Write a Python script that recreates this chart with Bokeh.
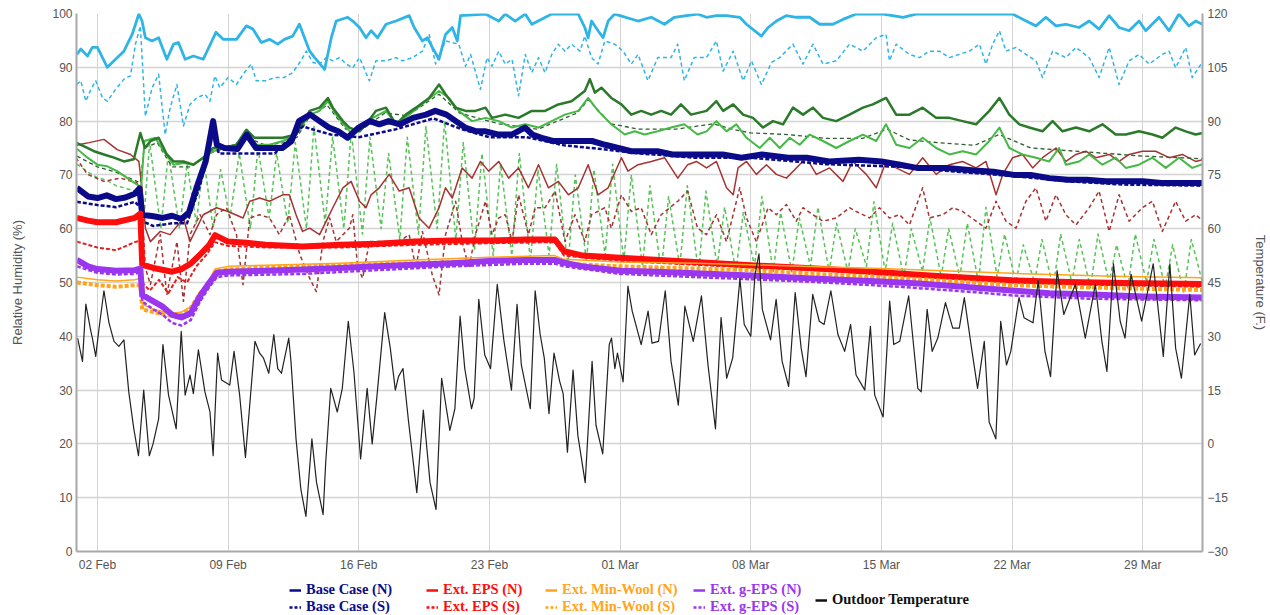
import pandas as pd
from bokeh.plotting import figure
from bokeh.layouts import column
from bokeh.models import (Range1d, LinearAxis, FixedTicker, DatetimeTickFormatter,
                          Legend, LegendItem)
from bokeh.embed import file_html
from bokeh.resources import INLINE

START = "2016-02-01"
TICK_DATES = ["2016-02-02", "2016-02-09", "2016-02-16", "2016-02-23", "2016-03-01",
              "2016-03-08", "2016-03-15", "2016-03-22", "2016-03-29"]
RH_TICKS = [0, 10, 20, 30, 40, 50, 60, 70, 80, 90, 100]
TEMP_TICKS = [-30, -15, 0, 15, 30, 45, 60, 75, 90, 105, 120]

# (day offset from 1 Feb, value)
LIGHT_BLUE = [(-0.1,92.4),(0.11,93.4),(0.47,92.1),(0.73,93.7),(1.0,93.7),(1.53,90),(1.89,91.2),(2.42,93),(2.86,96.1),(3.22,99.9),(3.39,98.6),(3.57,95.5),(3.93,94.9),(4.28,95.5),(4.72,91.5),(5.08,94.3),(5.34,94.6),(5.7,91.5),(6.14,92.1),(6.67,91.5),(7.35,96.5),(7.74,95.2),(8.45,95.2),(8.98,97.7),(9.33,97.1),(9.78,94.6),(10.22,95.2),(10.66,94.3),(11.02,95.2),(11.46,95.8),(11.82,98),(12.37,93),(12.64,91.8),(13.17,89.6),(13.53,95.5),(13.79,98.6),(14.41,99.3),(14.68,98.6),(15.04,97.4),(15.39,95.5),(15.66,96.8),(16.01,95.5),(16.46,98),(16.99,98.6),(17.7,99.6),(17.97,97.4),(18.41,94.9),(18.68,95.5),(18.94,93.7),(19.3,91.5),(19.65,96.1),(20.01,97.4),(20.28,94.9),(20.45,99.6),(21.78,99.9),(22.5,98.6),(22.85,99.9),(23.38,98.6),(23.92,99.9),(24.27,98),(25.34,99.9),(26.76,99.9),(27.11,97.4),(27.29,95.5),(27.47,98.6),(27.82,96.8),(28.09,95.5),(28.36,98.6),(28.71,99.9),(29.96,98.6),(30.67,99.3),(31.38,98),(31.91,99.3),(33.15,99.9),(33.63,99.3),(34.16,99.6),(34.7,99.6),(35.41,99.3),(35.77,98),(36.57,95.8),(36.93,97.4),(37.37,98.6),(37.9,99.6),(38.44,99.3),(39.16,99.3),(39.69,98),(40.4,98),(40.94,98.9),(41.65,99.9),(43.09,99.9),(44.16,99.3),(44.86,99.9),(47.35,99.9),(50.03,99.9),(50.75,98.6),(51.28,97.7),(51.81,99.3),(52.35,97.7),(52.88,98),(53.59,97.4),(54.13,98.6),(54.66,97.1),(55.2,99.6),(55.73,97.4),(56.27,96.8),(56.8,98.6),(57.16,96.8),(57.87,99.3),(58.41,96.8),(58.94,99.9),(59.47,97.7),(59.83,98.6),(60.2,98)]

LIGHT_BLUE_DASH = [(-0.1,86.8),(0.11,87.5),(0.38,83.7),(0.65,85.9),(0.91,87.5),(1.27,84.3),(1.53,83.7),(1.98,85.9),(2.42,87.8),(2.77,88.4),(3.04,94.3),(3.3,97.7),(3.57,80.9),(3.93,86.2),(4.28,88.7),(4.63,77.5),(4.9,82.5),(5.26,86.8),(5.61,79.1),(5.96,83.1),(6.32,84.3),(6.76,85),(7.03,83.7),(7.29,88.4),(7.56,86.2),(8.0,88.1),(8.45,86.8),(8.8,88.7),(9.24,90.6),(9.51,87.5),(10.04,87.5),(10.49,88.1),(11.0,88.1),(11.46,89),(11.9,91.2),(12.19,93),(12.55,90.9),(12.9,90.6),(13.26,91.8),(13.61,91.2),(13.97,91.8),(14.33,90.6),(14.68,89.9),(15.04,91.8),(15.57,87.5),(15.92,91.2),(16.46,91.2),(16.99,91.8),(17.34,91.2),(17.88,91.8),(18.41,93),(18.77,96.1),(19.12,90.6),(19.65,94.9),(20.36,94.3),(20.72,90.2),(20.99,92.4),(21.52,85.9),(21.87,91.8),(22.14,90.2),(22.5,93),(22.85,90.6),(23.21,91.5),(23.56,84.7),(23.92,92.4),(24.27,89),(24.63,91.8),(24.98,89),(25.34,92.4),(25.69,94.3),(26.05,93),(26.4,94.3),(26.85,93),(27.11,95.8),(27.47,91.8),(27.82,90.6),(28.18,94.9),(28.71,94.3),(29.16,93),(29.6,90.6),(29.96,92.4),(30.49,87.5),(31.02,91.8),(31.73,91.8),(32.09,94.3),(32.44,87.5),(32.97,91.8),(33.63,91.8),(34.16,94.9),(34.52,89.3),(35.06,93),(35.59,87.5),(36.04,91.2),(36.57,86.8),(37.11,90.9),(37.55,91.8),(38.26,94.3),(38.8,90.6),(39.33,94.3),(39.87,90.6),(40.58,91.2),(41.29,94.3),(42.01,93),(42.72,95.5),(43.25,96.1),(43.43,91.2),(43.79,94.3),(44.5,92.4),(45.04,91.8),(45.57,93),(46.1,93),(46.64,91.8),(47.17,92.4),(47.71,93),(48.25,94.3),(48.6,90.6),(48.96,94.3),(49.32,96.8),(49.67,93),(50.21,93.7),(50.74,92.4),(51.28,91.2),(51.63,88.1),(52.17,93),(52.88,91.8),(53.42,93.7),(54.13,91.8),(54.66,88.1),(55.2,93.7),(55.73,86.8),(56.27,91.2),(56.8,92.4),(57.34,90.6),(58.05,92.4),(58.41,93),(58.76,89.9),(59.3,93.7),(59.65,88.1),(60.2,91)]

DARK_GREEN = [(-0.15,76),(0.29,75.3),(0.82,74.4),(1.35,73.8),(1.89,73.2),(2.42,72.5),(2.95,72.9),(3.3,77.8),(3.55,75),(3.84,76.3),(4.28,76.9),(4.72,73.8),(5.08,72.5),(5.61,72.5),(6.14,71.9),(6.67,73.2),(7.21,75),(7.74,75),(8.45,75.6),(8.98,78.4),(9.42,76.9),(10.22,76.9),(10.93,76.9),(11.64,77.5),(12.37,81.9),(12.9,82.5),(13.35,84.3),(13.61,82.5),(14.15,80),(14.5,78.8),(15.04,78.1),(15.39,79.4),(15.92,81.9),(16.46,82.5),(16.99,79.4),(17.52,81.2),(18.06,82.5),(18.77,84.3),(19.3,86.8),(19.65,85),(20.19,82.5),(20.72,81.9),(21.25,81.9),(21.79,82.5),(22.14,80.6),(22.85,81.2),(23.56,80.6),(24.27,81.9),(24.98,81.9),(25.69,83.1),(26.4,83.7),(27.11,85.6),(27.38,87.8),(27.65,85.3),(28.0,86.2),(28.53,84.3),(29.07,83.1),(29.6,81.2),(30.13,81.9),(30.67,81.2),(31.2,81.9),(31.73,81.2),(32.26,83.1),(32.8,81.2),(33.63,81.9),(34.16,83.7),(34.52,81.9),(35.06,83.1),(35.59,81.2),(36.12,80.6),(36.66,78.8),(37.19,80),(37.73,79.4),(38.26,82.5),(38.8,81.2),(39.33,82.5),(39.87,80.6),(40.58,80),(41.29,81.2),(42.01,82.5),(42.54,83.1),(43.25,84.3),(43.79,81.2),(44.5,81.2),(45.21,82.5),(45.93,80.6),(46.64,80.6),(47.35,80),(48.07,79.4),(48.78,81.9),(49.32,84.3),(49.85,81.2),(50.39,79.4),(50.92,78.8),(51.63,78.1),(52.17,80),(52.7,78.1),(53.42,78.8),(54.13,78.1),(54.84,79.4),(55.55,77.5),(56.09,77.5),(56.8,78.1),(57.52,77.5),(58.05,76.9),(58.76,78.8),(59.3,78.1),(59.83,77.5),(60.2,77.8)]

GREEN = [(-0.15,75),(0.47,73.2),(1.0,71.9),(1.53,71.6),(2.06,70.7),(2.6,69.4),(3.13,68.2),(3.34,67.6),(3.52,76.3),(4.1,76.9),(4.55,74.4),(5.08,71.9),(5.61,72.2),(6.14,71.9),(6.67,73.2),(7.2,74.4),(7.74,75),(8.45,75.6),(8.98,77.5),(9.51,75.6),(10.22,75.6),(10.93,76.3),(11.64,77.5),(12.37,81.2),(12.9,81.9),(13.35,83.7),(13.79,81.2),(14.33,78.8),(14.68,77.5),(15.21,78.8),(15.75,80.6),(16.46,81.9),(16.99,79.4),(17.7,81.2),(18.59,83.7),(19.3,85.6),(19.83,84.3),(20.36,81.9),(21.07,80),(21.79,80.6),(22.5,80),(23.21,78.8),(23.92,79.4),(24.63,78.8),(25.34,80),(26.05,81.2),(26.76,81.9),(27.29,84.3),(27.82,81.9),(28.53,79.4),(29.25,77.5),(29.78,78.1),(30.31,77.5),(31.02,78.1),(31.73,78.8),(32.44,79.4),(33.15,77.5),(33.63,78.1),(34.16,80),(34.7,78.1),(35.23,79.4),(35.77,76.9),(36.48,75),(37.02,76.9),(37.55,75),(38.09,76.9),(38.62,75.6),(39.16,77.5),(39.87,76.3),(40.58,75),(41.29,76.3),(42.01,77.5),(42.72,76.3),(43.25,79.4),(43.79,75.6),(44.5,75),(45.21,76.9),(45.93,75),(46.64,73.8),(47.35,74.4),(48.07,73.8),(48.78,76.3),(49.32,78.8),(49.85,75),(50.56,73.8),(51.28,73.2),(51.99,72.5),(52.52,75),(52.88,71.9),(53.59,72.5),(54.13,73.8),(54.84,71.9),(55.55,73.2),(56.09,71.3),(56.8,71.9),(57.52,73.2),(58.23,71.3),(58.94,73.2),(59.65,71.3),(60.2,72)]

DARK_GREEN_DASH = [(-0.1,73.5),(1,71.5),(2,70.5),(3,69),(3.3,68.5),(3.5,75),(4.2,76),(5,71.5),(6,71.5),(7,74),(8,75),(9,77),(10,75.5),(11,76),(11.7,77),(12.3,80.5),(13.3,83),(14.3,78.5),(15.2,78.5),(16.4,81.5),(17.6,81),(19.3,85),(20.4,81.5),(22.5,79.5),(24.6,78.5),(26.7,81.5),(27.3,84),(28.5,79.5),(30,78.5),(32,78.5),(34,79.5),(35,78.5),(36,77.8),(38,77.5),(40,76.8),(42,76.8),(43.3,78.5),(44.5,76.5),(46,76),(48,75.5),(49.3,77.5),(51,75),(53,74.5),(55,74),(57,73.5),(60.2,73)]

GREEN_DASH = [(-0.1,72),(0.5,70.5),(1,69.5),(1.5,69),(2,68),(2.5,67.5),(3,67),(3.3,66.5),(3.4,58),(3.8,76),(4.4,60),(4.8,74),(5.4,60),(5.8,72),(6.3,61),(6.7,73),(7.2,60),(7.6,71),(8.1,62),(8.6,74),(9.2,60),(9.6,75),(10.2,62),(10.6,74),(11.2,61),(11.6,76),(12.2,60),(12.6,79),(13.2,61),(13.6,77),(14.2,60),(14.6,78),(15.2,59),(15.6,77),(16.2,60),(16.6,74),(17.2,58),(17.6,77),(18.2,59),(18.6,79),(19.2,60),(19.6,80),(20.2,58),(20.6,76),(21.2,56),(21.6,74),(22.2,55),(22.6,72),(23.2,55),(23.6,74),(24.2,54),(24.6,71),(25.2,55),(25.6,72),(26.2,53),(26.6,70),(27.2,54),(27.6,71),(28.2,55),(28.6,72),(29.2,54),(29.6,70),(30.2,53),(30.6,68),(31.2,52),(31.6,66),(32.2,53),(32.6,68),(33.2,52),(33.6,67),(34.2,53),(34.6,64),(35.2,52),(35.6,63),(36.2,53),(36.6,66),(37.2,52),(37.6,63),(38.2,52),(38.6,62),(39.2,53),(39.6,64),(40.2,52),(40.6,61),(41.2,52),(41.6,60),(42.2,53),(42.6,65),(43.2,52),(43.6,61),(44.2,51),(44.6,60),(45.2,52),(45.6,62),(46.2,51),(46.6,60),(47.2,51),(47.6,61),(48.2,50),(48.6,64),(49.2,51),(49.6,59),(50.2,50),(50.6,57),(51.2,50),(51.6,58),(52.2,49),(52.6,59),(53.2,50),(53.6,58),(54.2,49),(54.6,59),(55.2,50),(55.6,57),(56.2,49),(56.6,59),(57.2,50),(57.6,58),(58.2,49),(58.6,57),(59.2,48),(59.6,58),(60.2,50)]

BROWN = [(-0.1,75.5),(0.11,75.7),(0.56,76),(1.35,76.6),(2.06,74.7),(2.77,73.8),(3.22,72.5),(3.39,67.6),(3.57,60.1),(3.84,57.6),(4.37,59.5),(4.9,58.9),(5.61,62),(5.96,57.6),(6.67,62.6),(7.38,63.9),(8.0,63.2),(8.8,62),(9.16,65.1),(9.69,65.7),(10.22,65.1),(10.93,66.3),(11.28,66.3),(11.64,62.6),(11.99,59.5),(12.37,60.1),(12.9,58.9),(13.26,61.4),(13.61,63.9),(14.15,67.6),(14.59,68.8),(15.04,65.1),(15.39,63.9),(15.66,66.3),(16.1,67.6),(16.63,70.1),(17.17,67),(17.7,67.6),(18.23,62),(18.77,60.1),(19.3,63.9),(19.65,67.6),(20.01,65.7),(20.54,71.3),(21.07,69.4),(21.52,72.5),(21.96,70.7),(22.5,72.5),(23.03,69.4),(23.56,71.3),(24.09,67.6),(24.63,71.9),(25.16,67.6),(25.69,68.8),(26.23,66.3),(26.76,67.6),(27.29,71.9),(27.82,66.3),(28.36,67.6),(29.07,73.2),(29.42,70.7),(29.96,71.9),(30.67,72.5),(31.38,73.2),(32.09,69.4),(32.62,71.9),(33.09,72.5),(33.63,71.3),(34.16,72.5),(34.7,67.6),(35.06,66.3),(35.32,71.3),(35.77,72.5),(36.3,70.1),(36.84,71.9),(37.37,70.1),(37.91,69.4),(38.44,71.3),(38.98,73.2),(39.51,70.1),(40.22,71.3),(40.94,68.8),(41.47,72.5),(42.19,70.1),(42.72,67.6),(43.25,72.5),(43.79,71.3),(44.5,70.1),(45.21,73.2),(45.93,70.1),(46.64,71.9),(47.35,72.5),(48.07,71.3),(48.6,72.5),(49.14,66.3),(49.5,70.1),(50.03,73.2),(50.56,73.8),(51.1,71.3),(51.63,73.2),(52.35,75),(52.88,72.5),(53.42,73.8),(53.95,74.4),(54.48,73.2),(55.2,73.8),(55.73,72.5),(56.27,73.8),(56.98,74.4),(57.69,74.4),(58.41,73.2),(59.12,73.8),(59.83,72.5),(60.2,72.8)]

BROWN_DASH = [(-0.15,73.2),(0.47,70.1),(1.35,68.8),(2.24,69.4),(3.13,68.5),(3.39,63.9),(3.57,52.7),(3.84,49.6),(4.37,58.9),(4.72,47.7),(5.26,57.6),(5.61,46.5),(5.96,58.9),(6.5,62.6),(7.03,58.9),(7.38,62.6),(7.91,63.9),(8.45,58.9),(8.8,49.6),(9.16,62),(9.69,62.6),(10.22,62),(10.75,58.9),(11.28,62.6),(11.84,55.2),(12.37,50.8),(12.73,48.3),(13.08,57.6),(13.44,62),(13.79,57.6),(14.5,60.1),(14.68,62.6),(14.95,52.7),(15.21,50.8),(15.57,57.6),(16.28,57.6),(17.17,57.6),(17.7,58.9),(18.06,52.7),(18.41,59.5),(18.94,51.4),(19.3,47.7),(19.65,58.9),(20.19,65.1),(20.54,57.6),(20.9,52.7),(21.25,58.9),(21.79,65.1),(22.14,58.9),(22.5,62),(22.85,62.6),(23.21,57.6),(23.56,66.3),(24.09,58.9),(24.45,63.9),(24.98,63.9),(25.52,67),(26.05,57.6),(26.58,62.6),(27.11,57.6),(27.47,62.6),(28.18,63.9),(28.53,60.1),(29.07,66.3),(29.6,63.2),(30.13,63.9),(30.67,58.9),(31.2,62.6),(32.09,65.1),(32.62,67),(33.15,60.1),(33.63,58.9),(34.16,62.6),(34.7,57.6),(35.41,67.6),(35.77,62),(36.3,57.6),(36.93,63.9),(37.37,62.6),(37.91,64.5),(38.44,61.4),(38.8,63.9),(39.33,62.6),(39.87,61.4),(40.58,62),(41.29,63.9),(41.65,63.2),(42.36,62),(42.9,63.9),(43.43,62),(43.97,62.6),(44.5,60.7),(45.21,67.6),(45.57,62),(46.28,62.6),(46.82,63.9),(47.35,63.2),(48.07,61.4),(48.6,60.1),(49.14,65.1),(49.67,61.4),(50.21,60.1),(50.74,65.1),(51.28,67.6),(51.81,61.4),(52.35,66.3),(52.88,62.6),(53.42,60.7),(54.13,63.9),(54.66,67),(55.2,59.5),(55.73,66.3),(56.27,61.4),(56.98,63.9),(57.52,65.1),(58.05,59.5),(58.76,65.1),(59.3,61.4),(59.83,62.6),(60.2,61.5)]

BASE_N = [(-0.1,67.6),(0.5,66),(1,65.7),(1.5,66.2),(2,65.5),(2.5,65.8),(3,66.5),(3.25,67.5),(3.4,62.6),(4,62.3),(4.5,62),(5,62.4),(5.5,61.8),(5.9,63),(6.3,67.5),(6.8,72.5),(7.2,80),(7.4,75.6),(7.8,75),(8.5,74.8),(9.0,77.5),(9.5,75),(10.2,75),(10.9,75),(11.4,76.3),(11.8,80),(12.4,81.2),(12.9,80),(13.4,78.8),(13.9,78.1),(14.4,76.9),(15.0,78.8),(15.6,80),(16.1,79.4),(16.6,80),(17.2,79.4),(17.9,80.6),(18.6,81.2),(19.1,81.9),(19.7,81.2),(20.2,80),(20.7,78.8),(21.3,78.1),(21.8,78.1),(22.5,77.5),(23.2,77.5),(23.9,78.8),(24.3,77.5),(24.8,76.9),(25.4,76.3),(26.1,76.3),(26.8,76.3),(27.5,76.3),(28.2,75.6),(28.9,75),(29.6,74.4),(30.3,74.4),(31.0,74.4),(31.8,73.8),(32.5,73.8),(33.2,73.8),(34.5,73.8),(35.5,73.2),(36.6,73.8),(38.0,73.2),(39.0,73.2),(40.2,72.5),(41.8,72.8),(43.0,72.5),(44.0,71.9),(44.9,71.3),(46.5,71.3),(48.0,70.8),(49.0,70.6),(50.1,70),(51.0,70),(52.0,69.4),(53.0,69.1),(54.0,69.1),(55.0,68.8),(57.0,68.8),(58.0,68.5),(60.2,68.5)]
BASE_S = [(-0.1,65),(1,64.4),(2,64),(3,65),(3.3,64),(3.4,61.4),(4,60.5),(5,61),(5.8,61),(6.5,68),(7.2,78),(7.5,74),(9,74),(10.5,74),(12,79),(13.5,77.5),(15,77),(17,78.5),(19,80.5),(20.5,78.5),(22,77),(24,77),(26,75.5),(28,74.8),(30,74),(33,73.2),(36,73.2),(40,72),(44,71.5),(47,70.6),(50,69.8),(53,68.8),(56,68.2),(60.2,68)]

EPS_N = [(-0.1,62),(0.5,61.5),(1,61.2),(2,61.2),(3,62),(3.3,62.8),(3.4,53.3),(4,52.7),(5,52),(5.5,52.5),(6,53.5),(6.5,55.2),(7,57),(7.3,58.8),(8,57.6),(9,57.4),(10,57),(12,56.7),(14,57),(16,57.2),(18,57.6),(20,57.8),(22,57.8),(24,58),(25.5,58),(26,55.8),(27,55),(29,54.6),(33,53.8),(36,53.2),(40,52.5),(43,51.9),(46,51.2),(50,50.4),(53,50.1),(56,49.9),(60.2,49.7)]
EPS_S = [(-0.1,57.6),(1,56.5),(2,56),(3,57.5),(3.3,57.8),(3.4,50),(3.8,48.5),(4.3,50.5),(4.8,48),(5.3,51),(5.8,50),(6.3,53),(6.8,55),(7.3,57.5),(8,56.8),(10,56.5),(14,56.5),(18,57),(22,57.3),(25.5,57.5),(26,55),(29,54),(33,53.3),(36,52.8),(40,52.2),(43,51.5),(47,50.7),(50,50),(54,49.6),(60.2,49.2)]

WOOL_N = [(-0.1,51),(1,50.5),(2,50.3),(3,50.5),(3.3,50.8),(3.4,46),(4,45),(5,44.3),(5.5,44.5),(6,45.5),(6.5,48),(7,50.5),(7.3,52.5),(8,53),(10,53.2),(14,53.6),(18,54.2),(22,54.7),(25.5,55),(26,54.3),(29,53.8),(33,53.6),(36,53.3),(40,52.9),(43,52.6),(47,52.1),(50,51.7),(53,51.4),(56,51.1),(60.2,50.9)]
WOOL_S = [(-0.1,50),(1,49.5),(2,49.2),(3,49.5),(3.3,49.5),(3.4,45),(4,44.5),(5,43.8),(5.5,44),(6,45.3),(6.5,48),(7,50),(7.3,52),(8,52.4),(10,52.8),(14,53.2),(18,53.6),(22,54),(25.5,54.2),(26,53.5),(29,53),(33,52.6),(36,52.3),(40,51.5),(43,51),(47,50.2),(50,49.5),(53,49.2),(56,48.9),(60.2,48.6)]

GEPS_N = [(-0.1,54.2),(0.5,53),(1,52.5),(2,52.2),(3,52.3),(3.3,52.6),(3.4,47.7),(4,46.5),(4.5,45.5),(5,44),(5.5,43.5),(6,44.3),(6.5,47.5),(7,50),(7.4,51.8),(8,52),(10,52.2),(12,52.4),(14,52.7),(16,53),(18,53.3),(20,53.6),(22,54),(24,54.2),(25.5,54.2),(26,53.7),(27,53),(29,52.2),(31,52),(33,51.7),(36,51.3),(39,50.8),(43,50.2),(45,49.8),(47,49.3),(50,48.5),(52,48),(54,47.8),(57,47.4),(60.2,47.2)]
GEPS_S = [(-0.1,53),(1,51.8),(2,51.5),(3,51.6),(3.3,52),(3.4,46.5),(4,45),(4.5,44),(5,42.5),(5.5,42),(6,43),(6.5,46.5),(7,49.2),(7.4,51),(8,51.3),(12,51.6),(16,52.3),(20,53),(24,53.5),(25.5,53.5),(26,53),(29,51.6),(33,51),(36,50.6),(40,50),(44,49.2),(48,48.2),(50,47.6),(54,47),(60.2,46.7)]

OUTDOOR_TEMP = [(-0.06,29.5),(0.2,23),(0.38,39),(0.65,31.4),(0.73,29.5),(0.91,24.4),(1.09,32.3),(1.35,42.7),(1.62,33.75),(1.89,28.6),(2.15,27.2),(2.42,29),(2.68,14.5),(2.95,4.2),(3.2,-3.3),(3.48,15),(3.78,-3.3),(3.98,0),(4.28,7),(4.51,27.7),(4.81,13.6),(5.22,4.2),(5.49,31.4),(5.7,13.6),(5.96,19.2),(6.14,14),(6.41,26.25),(6.76,14.5),(7.03,8.9),(7.2,-3.3),(7.44,25.3),(7.65,17.8),(8.09,16.4),(8.32,25.8),(8.62,13.6),(8.93,-3.75),(9.16,10.8),(9.44,28.6),(9.69,25.3),(9.9,23.9),(10.18,19.7),(10.45,30.5),(10.66,21),(10.86,19.7),(11.25,29.5),(11.37,23),(11.64,1.4),(11.9,-12.7),(12.17,-20.2),(12.49,1.4),(12.74,-10.8),(13.09,-19.7),(13.23,-5.2),(13.5,15.5),(13.85,8.9),(14.12,15.5),(14.44,34.2),(14.74,20.2),(15.1,-4.2),(15.45,15.5),(15.72,0),(15.98,13.6),(16.39,36.6),(16.69,26.7),(16.96,15),(17.13,18.75),(17.37,21),(17.67,6.1),(18.11,-13.6),(18.46,9.4),(18.82,-10.8),(19.14,-18.3),(19.44,18.3),(19.88,3.75),(20.15,9.8),(20.43,35.6),(20.68,21),(21.04,9.8),(21.18,12.7),(21.43,40.3),(21.75,24.8),(22.06,21),(22.42,44.5),(22.77,29),(23.18,15),(23.48,38.9),(23.71,22),(24.19,9.8),(24.45,42.7),(24.72,30.5),(24.94,23.9),(25.19,8.4),(25.46,25.3),(25.77,17.3),(25.95,14),(26.18,-2.3),(26.48,20.6),(26.74,2.3),(27.13,-10.8),(27.5,23),(27.71,5.2),(28.07,-2.8),(28.42,27.7),(28.54,29.5),(28.72,21),(28.86,25.3),(29.16,17.3),(29.42,44),(29.65,37),(30.13,27.7),(30.5,37),(30.71,28.1),(31.06,28.6),(31.42,42.7),(31.73,23),(32.12,10.8),(32.47,38.4),(32.92,28.6),(33.36,41.25),(33.71,22),(34.11,4.2),(34.41,35.2),(34.71,18.3),(35.03,23.9),(35.42,46),(35.65,33.3),(36.0,30),(36.23,47.3),(36.44,53),(36.62,37.5),(37.06,29),(37.36,40.3),(37.68,23),(38.03,16),(38.38,42.2),(38.7,26.7),(38.96,18.75),(39.32,41.7),(39.67,34.2),(39.93,33.3),(40.29,42.7),(40.67,30.5),(41.03,25.8),(41.35,33.3),(41.64,19.2),(42.11,15),(42.41,32.8),(42.64,13.6),(43.09,7.5),(43.44,39.8),(43.66,27.7),(43.98,28.6),(44.46,41.25),(44.95,15.5),(45.13,14.5),(45.45,37.5),(45.72,25.8),(46.02,29.5),(46.43,39.4),(46.82,32.3),(47.17,32.3),(47.44,40.8),(47.8,27.7),(48.15,15.5),(48.51,28.6),(48.77,6.1),(49.13,1.4),(49.39,34.2),(49.7,22),(49.93,25.8),(50.37,40.8),(50.64,35.2),(51.12,33.75),(51.4,45.5),(51.76,25.8),(52.06,18.75),(52.41,48.3),(52.77,36.1),(53.39,44.5),(53.92,29.5),(54.46,44.5),(54.81,28.6),(55.08,20.2),(55.43,50.2),(55.79,34.2),(56.05,29.5),(56.37,47.3),(56.94,34.2),(57.56,50.2),(58.1,24.4),(58.45,50.2),(58.76,26.7),(59.07,18.3),(59.52,41.7),(59.78,24.8),(60.1,28)]

t0 = pd.Timestamp(START)


def xy(pairs):
    xs = [t0 + pd.Timedelta(days=d) for d, _ in pairs]
    ys = [v for _, v in pairs]
    return xs, ys


W = 1270
p = figure(width=W, height=577, x_axis_type="datetime", output_backend="svg",
           toolbar_location=None,
           x_range=Range1d(t0 + pd.Timedelta(days=-0.12), t0 + pd.Timedelta(days=60.2)),
           y_range=Range1d(0, 100),
           min_border_left=76, min_border_right=68, min_border_top=13, min_border_bottom=26)
p.extra_y_ranges = {"temp": Range1d(-30, 120)}
p.background_fill_color = "white"
p.border_fill_color = "white"
p.outline_line_color = None

tick_ms = [pd.Timestamp(t).value // 10**6 for t in TICK_DATES]
p.xaxis.ticker = FixedTicker(ticks=tick_ms)
fmt = "%d %b"
p.xaxis.formatter = DatetimeTickFormatter(days=fmt, months=fmt, hours=fmt, years=fmt,
                                          minutes=fmt, seconds=fmt, milliseconds=fmt,
                                          microseconds=fmt, minsec=fmt, hourmin=fmt)
p.yaxis.ticker = FixedTicker(ticks=RH_TICKS)
p.yaxis.axis_label = "Relative Humidity (%)"

right = LinearAxis(y_range_name="temp", ticker=FixedTicker(ticks=TEMP_TICKS),
                   axis_label="Temperature (F.)")
p.add_layout(right, "right")

for ax in [p.xaxis[0], p.yaxis[0], right]:
    ax.axis_line_color = "#a8a8a8"
    ax.axis_line_width = 2
    ax.major_tick_line_color = None
    ax.minor_tick_line_color = None
    ax.major_tick_out = 0
    ax.major_tick_in = 0
    ax.minor_tick_out = 0
    ax.major_label_text_font = "Liberation Sans"
    ax.major_label_text_font_size = "12px"
    ax.major_label_text_color = "#555555"
    ax.axis_label_text_font = "Liberation Sans"
    ax.axis_label_text_font_size = "13px"
    ax.axis_label_text_font_style = "normal"
    ax.axis_label_text_color = "#555555"
p.xaxis.major_label_standoff = 6
p.yaxis.major_label_standoff = 4
p.yaxis.axis_label_standoff = 24
right.major_label_standoff = 5
right.axis_label_standoff = 22

p.xgrid.grid_line_color = "#d4d4d4"
p.ygrid.grid_line_color = "#d4d4d4"
p.xgrid.grid_line_width = 1
p.ygrid.grid_line_width = 1.5

LB = "#2fb4e6"
DG = "#2a7a2a"
G = "#45b845"
GD = "#55c455"
BR = "#a83232"
NAVY = "#0b0b8a"
RED = "#ff0d0d"
ORANGE = "#ffa41b"
PURPLE = "#9a35f0"


def line(pairs, color, width, dash="solid", rng="default"):
    xs, ys = xy(pairs)
    return p.line(xs, ys, line_color=color, line_width=width, line_dash=dash,
                  y_range_name=rng, line_join="round")


line(LIGHT_BLUE, LB, 2.8)
line(LIGHT_BLUE_DASH, LB, 1.5, "4 3")
line(GREEN_DASH, GD, 1.5, "4 3")
line(BROWN_DASH, BR, 1.5, "4 3")
line(BROWN, BR, 1.5)
line(DARK_GREEN_DASH, "#2f5f2f", 1.3, "4 3")
line(GREEN, G, 2)
line(DARK_GREEN, DG, 2.5)
line(BASE_S, NAVY, 2.5, "4 2")
line(BASE_N, NAVY, 6)
line(EPS_S, "#e02020", 2, "4 2")
line(EPS_N, RED, 6)
line(WOOL_S, ORANGE, 4, "4 2")
line(WOOL_N, ORANGE, 1.5)
line(GEPS_S, PURPLE, 2.5, "4 2")
line(GEPS_N, PURPLE, 6)
line(OUTDOOR_TEMP, "#222222", 1.2, rng="temp")

# ---- legend strip below the chart (frame aligned with the chart frame) ----
lg = figure(width=W, height=38, output_backend="svg", toolbar_location=None,
            x_range=Range1d(0, 1), y_range=Range1d(0, 1),
            x_axis_location=None, y_axis_location=None,
            min_border_left=0, min_border_right=0, min_border_top=0, min_border_bottom=0)
lg.outline_line_color = None
lg.xgrid.visible = False
lg.ygrid.visible = False
lg.background_fill_color = "white"
lg.border_fill_color = "white"

NAN = float("nan")


def proxy(color, dash):
    # legend-only renderer: a single missing point, nothing is drawn in the frame
    return lg.line(x=[NAN], y=[NAN], line_color=color, line_width=2.5, line_dash=dash)


groups = [
    ("Base Case", NAVY, 213),
    ("Ext. EPS", RED, 350),
    ("Ext. Min-Wool", ORANGE, 469),
    ("Ext. g-EPS", PURPLE, 617),
]
for name, color, xloc in groups:
    rn = proxy(color, "solid")
    rs = proxy(color, "3 2")
    leg = Legend(items=[LegendItem(label=f"{name} (N)", renderers=[rn]),
                        LegendItem(label=f"{name} (S)", renderers=[rs])],
                 location=(xloc, 0), orientation="vertical")
    leg.label_text_color = color
    lg.add_layout(leg, "center")

rt = proxy("#111111", "solid")
leg_t = Legend(items=[LegendItem(label="Outdoor Temperature", renderers=[rt])],
               location=(739, 7), orientation="vertical")
leg_t.label_text_color = "#111111"
lg.add_layout(leg_t, "center")

for leg in lg.legend:
    leg.label_text_font = "Liberation Serif"
    leg.label_text_font_style = "bold"
    leg.label_text_font_size = "14.5px"
    leg.glyph_width = 12
    leg.glyph_height = 10
    leg.label_height = 15
    leg.label_standoff = 5
    leg.spacing = 0
    leg.padding = 0
    leg.margin = 0
    leg.background_fill_alpha = 0
    leg.border_line_alpha = 0

layout = column(p, lg, spacing=0)
open("out.html", "w").write(file_html(layout, INLINE))
